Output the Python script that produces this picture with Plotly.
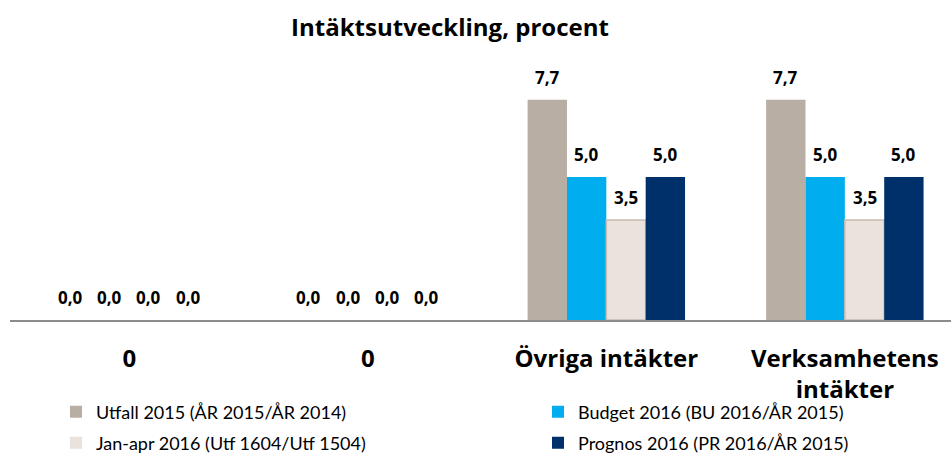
import plotly.graph_objects as go

categories = ["0", "0", "Övriga intäkter", "Verksamhetens<br>intäkter"]
series_names = [
    "Utfall 2015 (ÅR 2015/ÅR 2014)",
    "Budget 2016 (BU 2016/ÅR 2015)",
    "Jan-apr 2016 (Utf 1604/Utf 1504)",
    "Prognos 2016 (PR 2016/ÅR 2015)",
]
utfall_2015 = [0.0, 0.0, 7.7, 7.7]
budget_2016 = [0.0, 0.0, 5.0, 5.0]
janapr_2016 = [0.0, 0.0, 3.5, 3.5]
prognos_2016 = [0.0, 0.0, 5.0, 5.0]

values = [utfall_2015, budget_2016, janapr_2016, prognos_2016]
colors = ["#B8AEA4", "#00AEEF", "#EAE2DC", "#00306A"]
borders = ["#B8AEA4", "#00AEEF", "#C6BCB2", "#00306A"]
legend_ids = ["legend", "legend2", "legend3", "legend4"]

BOLD = "Open Sans"
REG = "Lato"
BARGAP = 0.34
xpos = list(range(len(categories)))
n = len(values)
bar_w = (1 - BARGAP) / n

fig = go.Figure()
annotations = []
for j, (name, vals, c, b, lg) in enumerate(zip(series_names, values, colors, borders, legend_ids)):
    fig.add_trace(go.Bar(
        x=xpos, y=vals, name=name,
        marker=dict(color=c, line=dict(color=b, width=[1.5 if (j == 2 and v > 0) else 0 for v in vals])),
        legend=lg, showlegend=True, hoverinfo="skip",
    ))
    for xi, v in zip(xpos, vals):
        annotations.append(dict(
            x=xi + (j - (n - 1) / 2) * bar_w, y=v, xref="x", yref="y",
            text="<b>" + f"{v:.1f}".replace(".", ",") + "</b>",
            showarrow=False, yanchor="bottom", xanchor="center", yshift=9,
            font=dict(family=BOLD, size=17, color="#000000"),
        ))

leg_common = dict(orientation="h", xref="container", yref="container",
                  xanchor="left", yanchor="middle",
                  font=dict(family=REG, size=18, color="#000000"),
                  bgcolor="rgba(0,0,0,0)", visible=True)

fig.update_layout(
    width=951, height=461,
    showlegend=True,
    paper_bgcolor="white", plot_bgcolor="white",
    barmode="group", bargap=BARGAP, bargroupgap=0,
    margin=dict(l=10, r=0, t=60, b=141, autoexpand=False),
    font=dict(family=BOLD, color="#000000"),
    title=dict(text="<b>Intäktsutveckling, procent</b>", x=450 / 951, xanchor="center",
               y=1 - 28 / 461, yanchor="middle", xref="container", yref="container",
               font=dict(family=BOLD, size=24, color="#000000")),
    xaxis=dict(range=[-0.5, 3.445], tickvals=xpos, ticktext=[f"<b>{c}</b>" for c in categories],
               tickfont=dict(family=BOLD, size=24, color="#000000"),
               showline=True, linecolor="#8C8C8C", linewidth=2, ticks="",
               ticklabelstandoff=16, showgrid=False, zeroline=False),
    yaxis=dict(range=[0, 9.09], visible=False, showgrid=False, zeroline=False),
    legend=dict(leg_common, x=56 / 951, y=1 - 412 / 461),
    legend2=dict(leg_common, x=538 / 951, y=1 - 412 / 461),
    legend3=dict(leg_common, x=56 / 951, y=1 - 443 / 461),
    legend4=dict(leg_common, x=538 / 951, y=1 - 443 / 461),
    annotations=annotations,
)

fig.write_html("out.html", config={"displayModeBar": False},
               post_script="document.body.style.margin='0';")
